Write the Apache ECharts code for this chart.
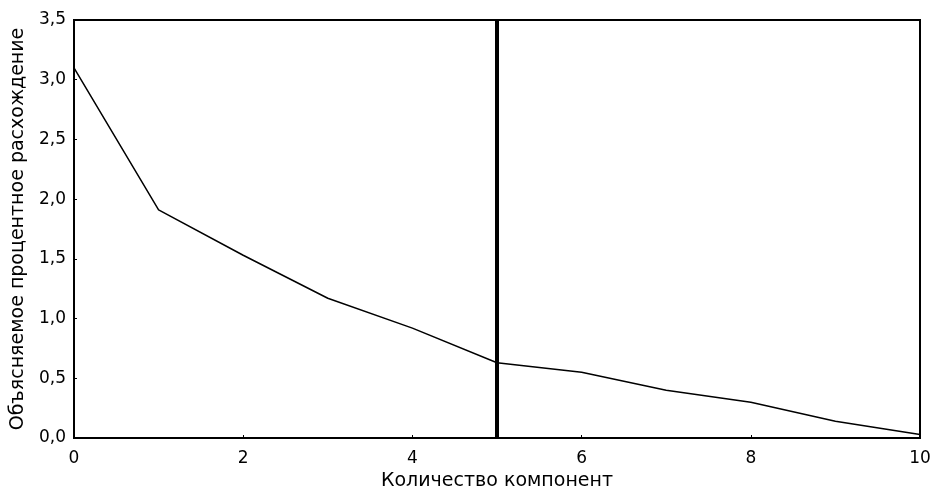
<!DOCTYPE html>
<html><head><meta charset="utf-8">
<script src="https://cdn.jsdelivr.net/npm/echarts@6/dist/echarts.min.js"></script>
<style>html,body{margin:0;padding:0;background:#fff}#c{width:936px;height:494px}</style>
</head><body><div id="c"></div>
<script>
const components = [0, 1, 2, 3, 4, 5, 6, 7, 8, 9, 10];
const explained = [3.10, 1.91, 1.53, 1.17, 0.92, 0.63, 0.55, 0.40, 0.30, 0.14, 0.03];
const cutoff = 5;
const xTitle = 'Количество компонент';
const yTitle = 'Объясняемое процентное расхождение';

const fmt = v => v.toFixed(1).replace('.', ',');
const chart = echarts.init(document.getElementById('c'));
const font = 'DejaVu Sans, sans-serif';
chart.setOption({
  animation: false,
  backgroundColor: '#fff',
  grid: { left: 74, right: 16, top: 20, bottom: 56, show: true, borderColor: '#000', borderWidth: 2,
          containLabel: false, outerBoundsMode: 'none' },
  xAxis: {
    type: 'value', min: 0, max: 10, interval: 2,
    name: xTitle, nameLocation: 'middle', nameGap: 34,
    nameTextStyle: { fontFamily: font, fontSize: 19, color: '#000' },
    axisLine: { lineStyle: { color: '#000', width: 2 } },
    axisTick: { inside: true, length: 3, lineStyle: { color: '#000' } },
    axisLabel: { fontFamily: font, fontSize: 17, color: '#000', margin: 12 },
    splitLine: { show: false }
  },
  yAxis: {
    type: 'value', min: 0, max: 3.5, interval: 0.5,
    name: yTitle, nameLocation: 'middle', nameGap: 46,
    nameTextStyle: { fontFamily: font, fontSize: 19, color: '#000' },
    axisLine: { lineStyle: { color: '#000', width: 2 } },
    axisTick: { inside: true, length: 3, lineStyle: { color: '#000' } },
    axisLabel: { fontFamily: font, fontSize: 17, color: '#000', margin: 8, formatter: fmt },
    splitLine: { show: false }
  },
  series: [{
    type: 'line',
    data: components.map((c, i) => [c, explained[i]]),
    symbol: 'none',
    lineStyle: { color: '#000', width: 1.5 },
    markLine: {
      silent: true, symbol: 'none', label: { show: false },
      lineStyle: { color: '#000', width: 4, type: 'solid' },
      data: [{ xAxis: cutoff }]
    }
  }]
});
</script></body></html>
